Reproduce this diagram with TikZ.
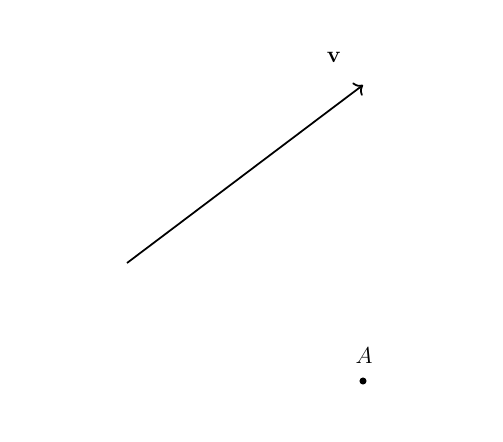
\documentclass[tikz,border=0pt]{standalone}
\usetikzlibrary{arrows.meta}
\begin{document}
\begin{tikzpicture}[x=0.625pt,y=-0.625pt,
  every node/.style={font=\fontsize{15}{18}\selectfont},
  vec/.style={line width=1.1pt,-{To[scale=1.2]}},
  pt/.style={circle,fill=black,inner sep=0pt,minimum size=4.4pt}]
\useasboundingbox (0,0) rectangle (503,441);
\coordinate (s) at (127,263);
\coordinate (e) at (363,85);
\draw[vec] (s) -- (e);
\node (v) at (334,57) {$\mathbf{v}$};
\node[pt] (a) at (363,381) {};
\node (al) at (364,356) {$A$};
\end{tikzpicture}
\end{document}
